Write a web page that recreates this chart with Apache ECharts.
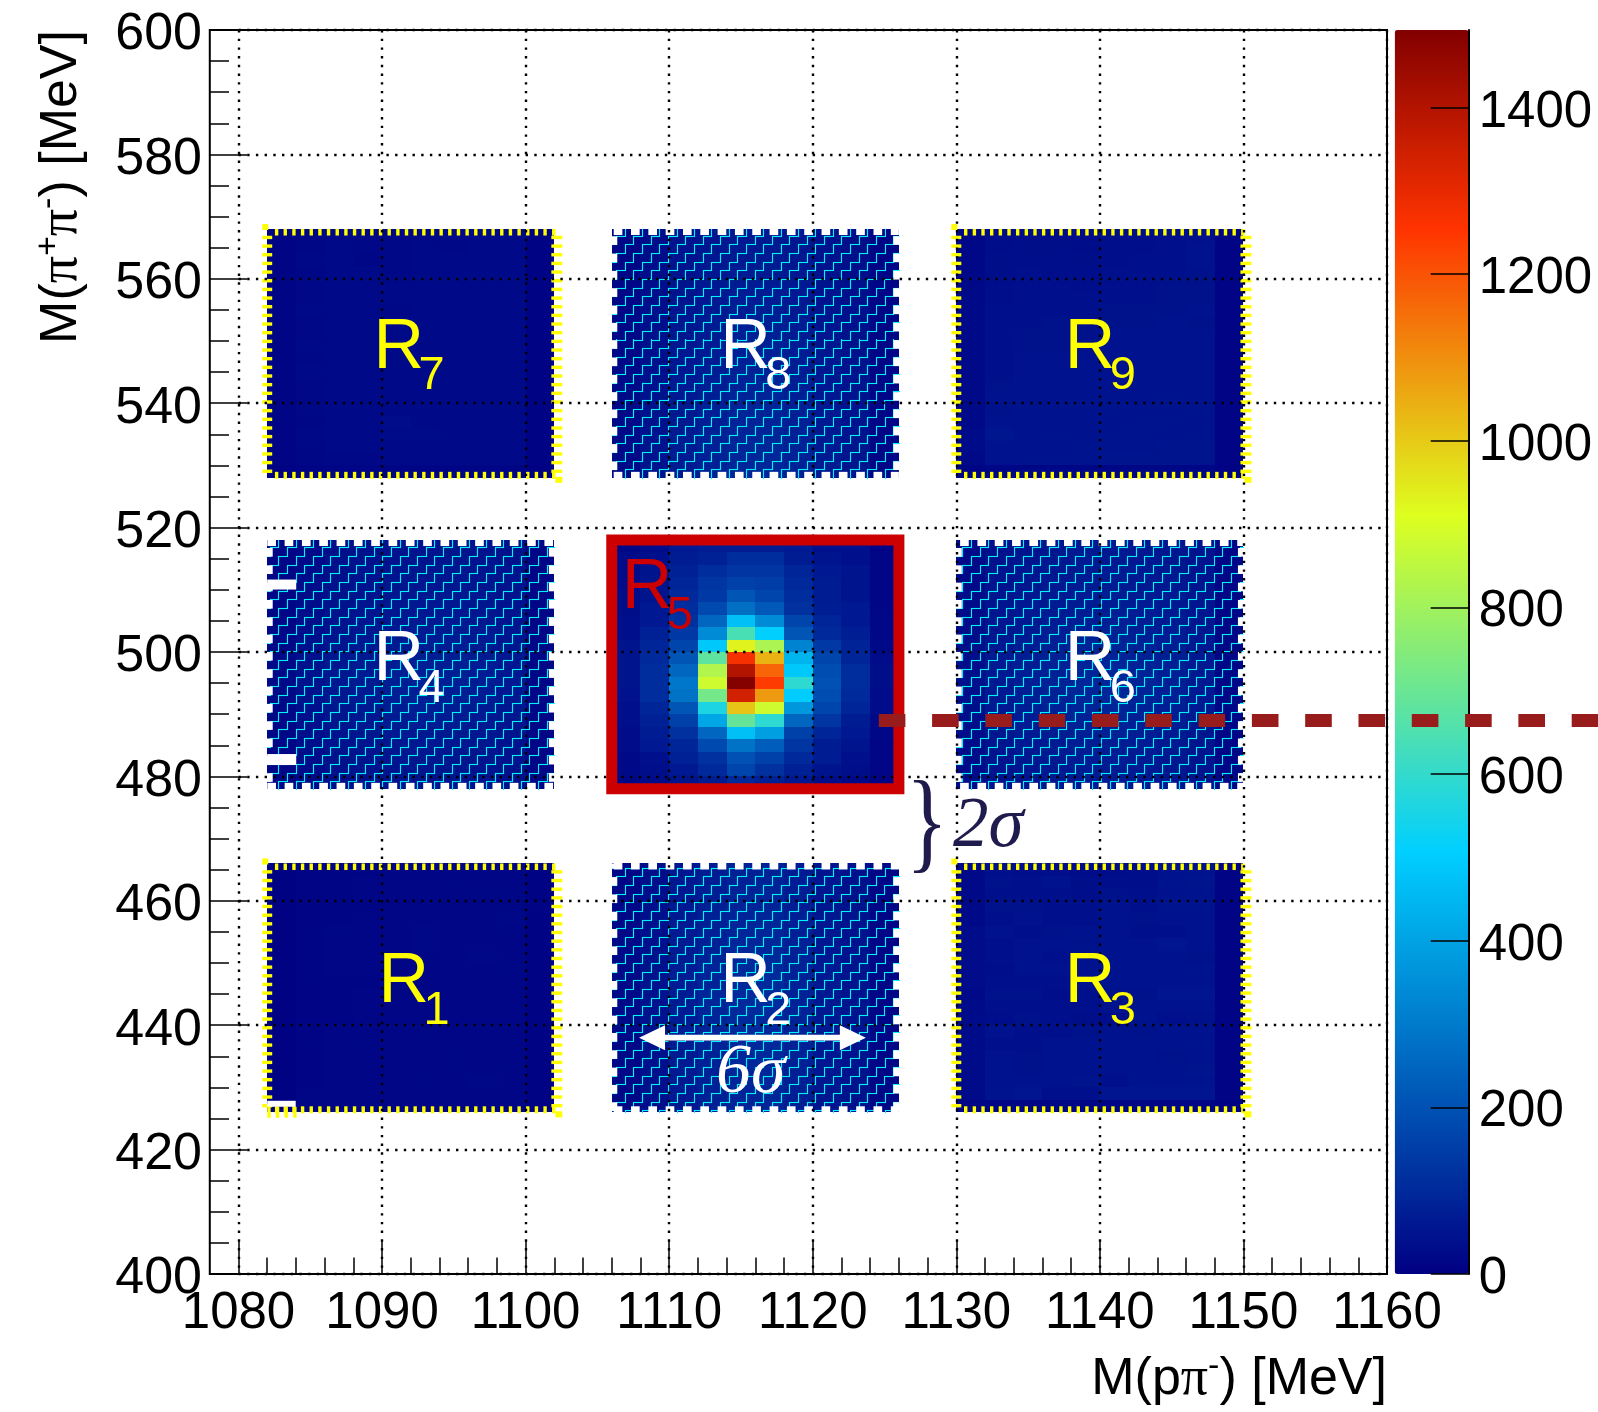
<!DOCTYPE html>
<html><head><meta charset="utf-8">
<style>html,body{margin:0;padding:0;background:#fff}#c{width:1598px;height:1412px}</style>
<script src="https://cdn.jsdelivr.net/npm/echarts@6/dist/echarts.min.js"></script>
</head><body><div id="c"></div>
<script>
// Axis ticks
const xTicks=[1080,1090,1100,1110,1120,1130,1140,1150,1160];
const yTicks=[400,420,440,460,480,500,520,540,560,580,600];
const zTicks=[0,200,400,600,800,1000,1200,1400];
const zMax=1493;
// Nine signal/sideband boxes: left x and bottom y of each (MeV), 2 MeV bins, 10 columns x 20 rows, rows listed top to bottom
const boxLeft=[1082,1106,1130];
const boxBottom=[426,478,528];
const R1=[
[6,10,12,12,14,16,16,16,16,8],[6,10,12,14,14,16,18,16,14,8],[6,10,12,14,14,16,16,18,18,8],[6,10,12,12,14,16,16,16,18,10],
[6,10,12,14,14,14,16,16,20,8],[6,12,18,14,14,20,16,16,18,8],[6,12,14,14,14,20,16,14,16,8],[6,12,14,14,14,16,14,20,14,8],
[6,12,14,16,14,14,16,14,18,8],[6,12,12,12,14,14,16,14,16,8],[6,10,12,14,14,14,16,16,16,8],[6,10,12,14,14,16,16,16,16,8],
[6,10,12,14,14,18,16,16,16,8],[6,10,14,14,16,18,16,14,14,8],[6,12,14,18,16,16,14,16,16,8],[6,10,14,14,14,16,18,16,16,8],
[6,10,14,14,14,16,18,14,18,8],[6,10,14,14,14,18,16,20,14,8],[6,14,14,14,14,14,14,14,16,8],[6,14,14,14,14,14,14,14,14,8]];
const R2=[
[18,34,55,70,78,82,66,50,38,14],[18,36,56,72,80,84,68,52,40,14],[20,36,58,74,84,86,70,52,42,14],[20,38,60,76,86,88,72,54,42,14],
[20,38,62,78,88,90,74,56,44,15],[20,40,64,80,90,92,76,56,44,15],[22,40,64,82,92,94,78,58,46,15],[22,42,66,84,94,96,78,58,46,16],
[22,42,68,86,96,98,80,60,46,16],[22,44,68,88,98,100,82,60,48,16],[22,44,70,90,100,102,82,62,48,16],[22,44,70,90,102,104,84,62,50,16],
[22,44,68,88,100,102,84,62,48,16],[22,42,68,88,98,100,82,60,48,16],[20,42,66,86,96,98,80,60,46,15],[20,40,66,84,94,96,78,58,46,15],
[20,40,64,82,92,94,76,58,44,15],[20,38,62,80,90,92,76,56,44,14],[18,38,60,78,88,90,74,54,42,14],[18,36,58,76,86,88,72,52,42,14]];
const R3=[
[22,38,36,34,30,32,36,44,48,10],[24,42,38,46,34,36,36,48,50,10],[24,40,38,38,36,42,38,46,48,10],[24,42,42,40,38,44,40,48,48,10],
[22,40,44,40,38,44,42,44,44,10],[30,46,40,42,46,44,40,40,44,10],[30,40,44,44,42,44,46,52,44,10],[30,38,44,40,44,44,44,46,42,10],
[30,36,46,44,46,46,46,44,48,10],[30,38,40,40,44,48,44,44,44,10],[24,42,42,36,38,42,42,52,52,10],[28,38,40,38,38,44,44,46,44,10],
[28,36,42,38,34,36,48,40,42,10],[28,44,40,38,42,46,42,44,46,10],[28,40,38,44,44,46,46,46,48,10],[28,46,42,44,46,46,44,42,46,10],
[28,44,42,44,44,46,46,44,50,10],[28,46,44,44,50,40,48,46,48,10],[28,48,52,38,40,52,52,52,52,10],[14,18,18,18,18,18,18,18,18,8]];
const R4=[
[14,24,36,40,44,46,50,46,42,12],[14,26,38,42,46,48,50,48,42,12],[16,28,38,44,48,50,52,48,44,12],[16,30,40,46,50,52,54,50,44,14],
[16,30,42,48,52,56,56,52,46,14],[18,32,44,50,56,58,58,54,48,14],[18,34,46,52,58,62,60,56,50,16],[20,36,48,56,62,66,64,60,52,16],
[20,38,52,60,66,70,68,62,54,18],[22,40,54,62,70,72,72,66,58,18],[22,42,56,66,72,76,74,68,58,18],[22,42,58,66,74,78,76,70,60,18],
[22,42,56,64,72,76,74,68,58,18],[20,40,54,62,70,72,70,66,56,18],[20,38,50,58,64,68,66,60,54,16],[18,36,48,54,60,62,62,58,50,16],
[18,34,44,50,56,58,58,54,48,14],[16,30,42,48,52,54,54,50,46,14],[16,28,40,44,48,50,50,48,42,14],[14,26,36,40,44,46,46,44,40,12]];
const R6=[
[24,40,48,54,60,60,56,52,44,14],[24,42,50,56,60,62,58,54,46,14],[26,44,52,58,62,64,60,56,46,14],[26,46,54,60,66,66,62,58,48,14],
[28,48,56,62,68,70,64,60,50,15],[28,50,60,66,70,72,68,62,52,15],[30,52,62,68,74,76,70,64,54,16],[32,54,66,72,78,80,74,68,56,16],
[34,58,70,76,84,84,78,70,58,18],[36,60,72,80,88,88,80,74,60,18],[36,62,74,82,90,92,84,76,62,18],[38,62,76,84,92,94,86,76,62,18],
[36,62,74,82,90,92,84,76,60,18],[34,60,72,80,86,88,80,72,60,18],[32,56,68,76,82,84,76,70,56,16],[30,54,64,70,76,78,72,66,54,16],
[28,50,60,66,72,72,68,62,50,15],[28,46,56,62,68,68,64,58,48,15],[26,44,52,58,64,64,60,54,46,14],[24,42,50,56,60,60,56,52,44,14]];
const R7=[
[10,18,20,20,18,20,22,24,22,8],[10,18,22,20,20,22,20,26,24,8],[10,20,22,18,20,24,22,24,22,8],[12,18,22,22,20,24,24,22,24,8],
[12,20,24,22,22,24,22,26,26,8],[12,20,22,24,22,24,22,24,24,8],[12,22,22,24,20,22,24,24,24,8],[12,20,24,22,22,24,24,22,26,8],
[12,20,22,24,24,26,24,22,24,8],[12,22,24,24,22,24,24,26,22,8],[12,20,22,22,24,24,26,24,24,8],[12,22,24,22,24,22,24,24,22,8],
[12,20,22,24,22,24,24,22,24,8],[12,20,24,24,24,26,22,26,22,8],[12,20,22,22,22,24,24,24,24,8],[12,18,24,24,30,24,24,22,22,8],
[10,20,22,22,28,28,22,24,24,8],[10,18,22,22,22,24,22,22,24,8],[10,18,20,20,22,22,22,22,22,8],[8,12,12,12,12,12,12,12,12,6]];
const R8=[
[16,30,44,52,58,60,52,42,34,12],[16,30,46,54,60,62,54,44,34,12],[16,32,46,56,62,64,56,44,36,12],[18,32,48,58,64,66,58,46,36,12],
[18,34,50,60,66,68,60,48,38,14],[18,34,50,60,68,70,60,48,38,14],[18,36,52,62,70,72,62,50,40,14],[20,36,54,64,72,74,64,50,40,14],
[20,38,54,66,74,76,66,52,42,14],[20,38,56,68,76,78,68,54,42,14],[20,40,58,70,78,80,70,56,44,15],[22,40,58,70,80,82,70,56,44,15],
[22,40,60,72,82,84,72,58,46,15],[22,42,60,74,84,86,74,58,46,15],[22,42,62,76,86,88,76,60,46,15],[22,42,62,76,86,88,76,60,48,16],
[24,44,64,78,88,90,78,62,48,16],[24,44,64,80,90,92,78,62,50,16],[24,46,66,80,90,92,80,64,50,16],[24,46,66,82,92,94,80,64,50,16]];
const R9=[
[18,30,34,32,30,34,34,38,40,10],[20,32,34,34,32,36,36,40,44,10],[20,34,36,36,34,36,38,38,44,10],[20,34,38,36,36,38,38,40,42,10],
[22,36,38,38,36,40,38,42,42,10],[22,36,38,40,38,40,40,42,42,10],[24,38,40,40,40,42,42,42,44,10],[24,38,40,42,40,42,42,44,42,10],
[24,38,42,42,42,44,44,44,44,10],[24,40,42,42,42,44,44,46,44,10],[26,40,44,44,44,46,44,46,46,10],[26,40,44,44,44,44,46,46,46,10],
[26,42,44,46,44,46,46,46,46,10],[24,44,44,46,46,48,46,48,46,10],[26,42,46,46,46,48,46,46,48,10],[26,44,44,44,46,46,48,48,46,10],
[28,54,46,48,46,48,48,46,48,10],[28,44,46,46,48,48,48,50,50,10],[26,46,48,48,48,50,50,50,50,10],[12,18,18,18,18,18,18,18,18,8]];
const R5=[
[20,30,60,70,70,70,60,40,40,10],[30,40,70,80,110,110,70,50,40,15],[30,50,80,110,130,130,90,60,50,15],[30,50,90,130,160,150,100,70,50,15],
[35,50,100,140,210,170,110,70,50,15],[35,60,110,180,270,220,120,75,60,15],[40,60,120,250,470,340,170,90,60,20],[40,80,140,340,640,510,210,100,75,20],
[50,90,170,490,930,820,320,140,85,25],[50,100,210,680,1270,1040,440,170,90,30],[50,110,250,830,1400,1170,490,190,110,35],[50,110,290,880,1490,1240,590,200,110,35],
[45,110,280,720,1340,1080,500,190,100,30],[40,90,210,560,1010,880,370,170,90,30],[40,80,160,410,690,590,250,130,70,25],[30,70,120,250,470,390,160,90,60,20],
[30,60,90,180,280,230,130,70,50,15],[25,40,80,120,200,160,100,70,40,15],[25,35,60,100,170,120,80,50,35,15],[20,30,50,70,100,80,60,35,25,10]];
const boxValues=[R1,R2,R3,R4,R5,R6,R7,R8,R9];
// Box labels: subscript, left x and baseline y (MeV), colour
const labelSubs=['1','2','3','4','5','6','7','8','9'];
const labelX=[1089.75,1113.55,1137.55,1089.4,1106.7,1137.55,1089.4,1113.55,1137.55];
const labelY=[443.6,443.6,443.6,495.4,507,495.4,545.6,545.6,545.6];
const labelColor=['#ffff00','#ffffff','#ffff00','#ffffff','#cc0000','#ffffff','#ffff00','#ffffff','#ffff00'];
const dashY=489, dashFrom=1124.6, dashTo=1174.8;
const arrowFrom=1107.9, arrowTo=1123.7, arrowY=438;

// ROOT rainbow palette
const stops=[[0,[0,0,130]],[.34,[0,207,255]],[.61,[222,255,31]],[.84,[255,51,0]],[1,[130,0,0]]];
const palette=[];
for(let i=0;i<=100;i++){const t=i/100;let k=0;while(k<stops.length-2&&t>stops[k+1][0])k++;
 const a=stops[k],b=stops[k+1],f=(t-a[0])/(b[0]-a[0]);
 palette.push('rgb('+a[1].map((v,j)=>Math.round(v+(b[1][j]-v)*f)).join(',')+')');}

const cells=[];
boxValues.forEach((rows,b)=>{const x0=boxLeft[b%3],y0=boxBottom[Math.floor(b/3)];
 rows.forEach((row,r)=>row.forEach((v,c)=>cells.push([x0+2*c,y0+2*(19-r),v])));});

const boxes=[];boxBottom.forEach((y,j)=>boxLeft.forEach((x,i)=>boxes.push([x,y,i,j])));
const hatched=boxes.filter(b=>(b[2]+b[3])%2===1);
const solid=boxes.filter(b=>b[2]!==1&&b[3]!==1);
const rect=(x,y,w,h,fill)=>({type:'rect',shape:{x,y,width:w,height:h},style:{fill}});
const corners=(api)=>{const a=api.coord([api.value(0),api.value(1)+40]),b=api.coord([api.value(0)+20,api.value(1)]);return [a[0],a[1],b[0],b[1]];};
const snap=v=>Math.round(v)+.5;

// Staircase hatch: steps of S px, repeated every 2S across, in segments cut to the box
function stairs(l,t,r,bt){
 const S=8.66,X0=278.3,Y0=556,out=[];
 const seg=(x1,y1,x2,y2)=>out.push({type:'line',shape:{x1,y1,x2,y2},style:{stroke:'#00f2ff',lineWidth:1.1}});
 const nLo=Math.floor((Y0-bt)/S),nHi=Math.ceil((Y0-t)/S);
 for(let n=nLo;n<=nHi;n++){
  const y=Y0-n*S,yUp=y-S,xs=X0+n*S;
  const k0=Math.floor((l-xs)/(2*S))-1,k1=Math.ceil((r-xs)/(2*S))+1;
  for(let k=k0;k<=k1;k++){
   const a=xs+2*k*S,b=a+S;
   if(y>=t&&y<=bt){const p=Math.max(a,l),q=Math.min(b,r);if(q>p)seg(Math.round(p),snap(y),Math.round(q)+1,snap(y));}
   if(b>=l&&b<=r){const u=Math.max(yUp,t),v=Math.min(y,bt);if(v>u)seg(snap(b),Math.round(u),snap(b),Math.round(v)+1);}
  }
 }
 return out;
}

const series=[
{type:'custom',name:'counts',z:1,data:cells,encode:{x:0,y:1},silent:true,
 renderItem(p,api){const a=api.coord([api.value(0),api.value(1)+2]),b=api.coord([api.value(0)+2,api.value(1)]);
  const l=Math.round(a[0]),t=Math.round(a[1]),r=Math.round(b[0]),d=Math.round(b[1]);
  return {type:'rect',shape:{x:l,y:t,width:r-l,height:d-t},style:{fill:api.visual('color')}};}},
{type:'custom',name:'hatched',z:2,data:hatched,encode:{x:0,y:1},silent:true,
 renderItem(p,api){const [l,t,r,bt]=corners(api);const ch=stairs(l,t,r,bt);
  const P=17.32,W=8.66,x0=267.3,y0=548;
  for(let x=x0+Math.ceil((l-x0-W)/P)*P;x<r;x+=P){const xx=Math.max(x,l),w=Math.min(x+W,r)-xx;if(w>0){ch.push(rect(xx,t-1,w,7,'#fff'),rect(xx,bt-6,w,7,'#fff'));}}
  for(let y=y0+Math.ceil((t-y0-W)/P)*P;y<bt;y+=P){const yy=Math.max(y,t),h=Math.min(y+W,bt)-yy;if(h>0){ch.push(rect(l-1,yy,6.5,h,'#fff'),rect(r-5.5,yy,6.5,h,'#fff'));}}
  return {type:'group',children:ch};}},
{type:'custom',name:'combed',z:2,data:solid,encode:{x:0,y:1},silent:true,
 renderItem(p,api){const [l,t,r,bt]=corners(api);const ch=[];const Y='#ffff00',P=8.66;
  for(let x=l+7.7;x<r;x+=P){ch.push(rect(x,t,3.4,6.5,Y),rect(x,bt-6,3.4,7,Y));}
  for(let y=t+6.7;y<bt-1;y+=P){ch.push(rect(l-5,y,10,3.4,Y),rect(r-3,y,11,3.4,Y));}
  ch.push(rect(l-5,t-5,6,6,Y),rect(r+1,bt-1,7,6,Y));
  return {type:'group',children:ch};}},
{type:'custom',name:'cut cells',z:2,data:[[1082,426,0]],encode:{x:0,y:1},silent:true,
 renderItem(p,api){const [l,t,r,bt]=corners(api);const Y='#ffff00';const ch=[rect(l,bt-11.5,28.5,6,'#fff')];
  for(let i=0;i<4;i++)ch.push(rect(l+i*8.66,bt-5.5,3.4,11,Y));return {type:'group',children:ch};}},
{type:'custom',name:'cut cells hatched',z:2,data:[[1082,478,0]],encode:{x:0,y:1},silent:true,
 renderItem(p,api){const [l,t]=corners(api);
  return {type:'group',children:[rect(l,t+39.5,29,10,'#fff'),rect(l,t+214,29,11,'#fff')]};}},
{type:'custom',name:'frame',z:5,data:[[1078,400,1160,600]],encode:{x:0,y:1},silent:true,
 renderItem(p,api){const a=api.coord([api.value(0),api.value(3)]),b=api.coord([api.value(2),api.value(1)]);
  return {type:'rect',shape:{x:a[0],y:a[1],width:b[0]-a[0],height:b[1]-a[1]},style:{fill:'none',stroke:'#000',lineWidth:2}};}},
{type:'custom',name:'signal box',z:6,data:[[1106,478,1126,518]],encode:{x:0,y:1},silent:true,
 renderItem(p,api){const a=api.coord([api.value(0),api.value(3)]),b=api.coord([api.value(2),api.value(1)]);
  return {type:'rect',shape:{x:a[0],y:a[1],width:b[0]-a[0],height:b[1]-a[1]},style:{fill:'none',stroke:'#cc0000',lineWidth:11}};}},
{type:'custom',name:'dashed',z:9,data:[[dashFrom,dashY,dashTo]],encode:{x:0,y:1},silent:true,
 renderItem(p,api){const a=api.coord([api.value(0),api.value(1)]),b=api.coord([api.value(2),api.value(1)]);
  return {type:'line',shape:{x1:a[0],y1:a[1],x2:b[0],y2:b[1]},style:{stroke:'#981c1c',lineWidth:13,lineDash:[26.6,26.7],lineCap:'butt'}};}},
{type:'custom',name:'labels',z:8,data:labelX.map((x,i)=>[x,labelY[i],i]),encode:{x:0,y:1},silent:true,
 renderItem(p,api){const i=api.value(2),q=api.coord([api.value(0),api.value(1)]);const font='"Liberation Sans",Arial,sans-serif';
  return {type:'group',children:[
   {type:'text',style:{text:'R',x:q[0],y:q[1]-20,fill:labelColor[i],font:'70px '+font,align:'left',verticalAlign:'middle'}},
   {type:'text',style:{text:labelSubs[i],x:q[0]+45,y:q[1]+8,fill:labelColor[i],font:'47px '+font,align:'left',verticalAlign:'middle'}}]};}},
{type:'custom',name:'width arrow',z:8,data:[[arrowFrom,arrowY,arrowTo]],encode:{x:0,y:1},silent:true,
 renderItem(p,api){const a=api.coord([api.value(0),api.value(1)]),b=api.coord([api.value(2),api.value(1)]);const y=a[1];
  return {type:'polygon',shape:{points:[[a[0],y],[a[0]+26,y-12.5],[a[0]+26,y-2.8],[b[0]-26,y-2.8],[b[0]-26,y-12.5],[b[0],y],[b[0]-26,y+12.5],[b[0]-26,y+2.8],[a[0]+26,y+2.8],[a[0]+26,y+12.5]]},style:{fill:'#fff'}};}}
];

const chart=echarts.init(document.getElementById('c'),null,{renderer:'canvas'});
const plain=v=>String(v);
const titleRich=sz=>({a:{fontFamily:'Liberation Sans',fontSize:sz,color:'#000',lineHeight:60},p:{fontFamily:'Liberation Serif',fontSize:sz+2,color:'#000',lineHeight:60},s:{fontFamily:'Liberation Sans',fontSize:34,color:'#000',verticalAlign:'top',lineHeight:40}});
chart.setOption({
 animation:false,backgroundColor:'#fff',
 grid:[{left:238.5,top:30,width:1148.5,height:1244},{left:1394.7,top:30,width:74,height:1244}],
 visualMap:{type:'continuous',show:true,seriesIndex:0,dimension:2,min:0,max:zMax,inRange:{color:palette},
  left:1394.7,top:30,padding:0,itemWidth:74,itemHeight:1244,calculable:false,text:null,showLabel:false,hoverLink:false,silent:true},
 xAxis:[{type:'value',gridIndex:0,min:xTicks[0],max:xTicks[xTicks.length-1],interval:10,z:3,
   axisLine:{show:false},axisTick:{show:true,inside:true,length:33,lineStyle:{color:'#000',width:1.5}},
   minorTick:{show:true,splitNumber:5,length:16.5,lineStyle:{color:'#000',width:1.5}},
   splitLine:{show:true,lineStyle:{color:'#000',width:2.4,type:[2.4,6.3]}},
   axisLabel:{color:'#000',fontFamily:'Liberation Sans',fontSize:51,margin:14,formatter:plain,showMinLabel:true,showMaxLabel:true},
   name:'{a|M(p}{p|π}{s|-}{a|) [MeV]}',nameLocation:'end',nameGap:0,
   nameTextStyle:{align:'right',verticalAlign:'top',padding:[76,0,0,0],rich:titleRich(52)}},
  {type:'value',gridIndex:1,min:0,max:1,show:false}],
 yAxis:[{type:'value',gridIndex:0,min:yTicks[0],max:yTicks[yTicks.length-1],interval:20,offset:28.5,z:3,position:'left',
   axisLine:{show:false},axisTick:{show:true,inside:true,length:37,lineStyle:{color:'#000',width:1.5}},
   minorTick:{show:true,splitNumber:4,length:19,lineStyle:{color:'#000',width:1.5}},
   splitLine:{show:true,lineStyle:{color:'#000',width:2.4,type:[2.4,6.3]}},
   axisLabel:{color:'#000',fontFamily:'Liberation Sans',fontSize:52,margin:8,verticalAlign:'top',lineHeight:10,formatter:plain,showMinLabel:true,showMaxLabel:true},
   name:'{a|M(}{p|π}{s|+}{p|π}{s|-}{a|) [MeV]}',nameLocation:'end',nameRotate:90,nameGap:0,
   nameTextStyle:{align:'right',verticalAlign:'bottom',padding:[0,0,118,0],rich:titleRich(52)}},
  {type:'value',gridIndex:1,min:0,max:zMax,position:'right',z:6,
   axisLine:{show:true,onZero:false,lineStyle:{color:'#000',width:2}},
   axisTick:{show:true,inside:true,length:38,customValues:zTicks,lineStyle:{color:'#000',width:1.5}},
   splitLine:{show:false},minorTick:{show:false},
   axisLabel:{color:'#000',fontFamily:'Liberation Sans',fontSize:51,margin:10,verticalAlign:'top',lineHeight:10,customValues:zTicks,formatter:plain}}],
 graphic:[
  {type:'text',z:20,silent:true,x:906,y:829,scaleX:.78,style:{text:'}',x:0,y:0,fill:'#1f1b4d',font:'112px "Liberation Serif",serif',align:'left',verticalAlign:'middle'}},
  {type:'text',z:20,silent:true,style:{text:'2σ',x:953,y:827,fill:'#1f1b4d',font:'italic 71px "Liberation Serif",serif',align:'left',verticalAlign:'middle'}},
  {type:'text',z:20,silent:true,style:{text:'6σ',x:716,y:1074,fill:'#ffffff',font:'italic 70px "Liberation Serif",serif',align:'left',verticalAlign:'middle'}}
 ],
 series:series.map(s=>Object.assign({xAxisIndex:0,yAxisIndex:0},s))
});
</script></body></html>
